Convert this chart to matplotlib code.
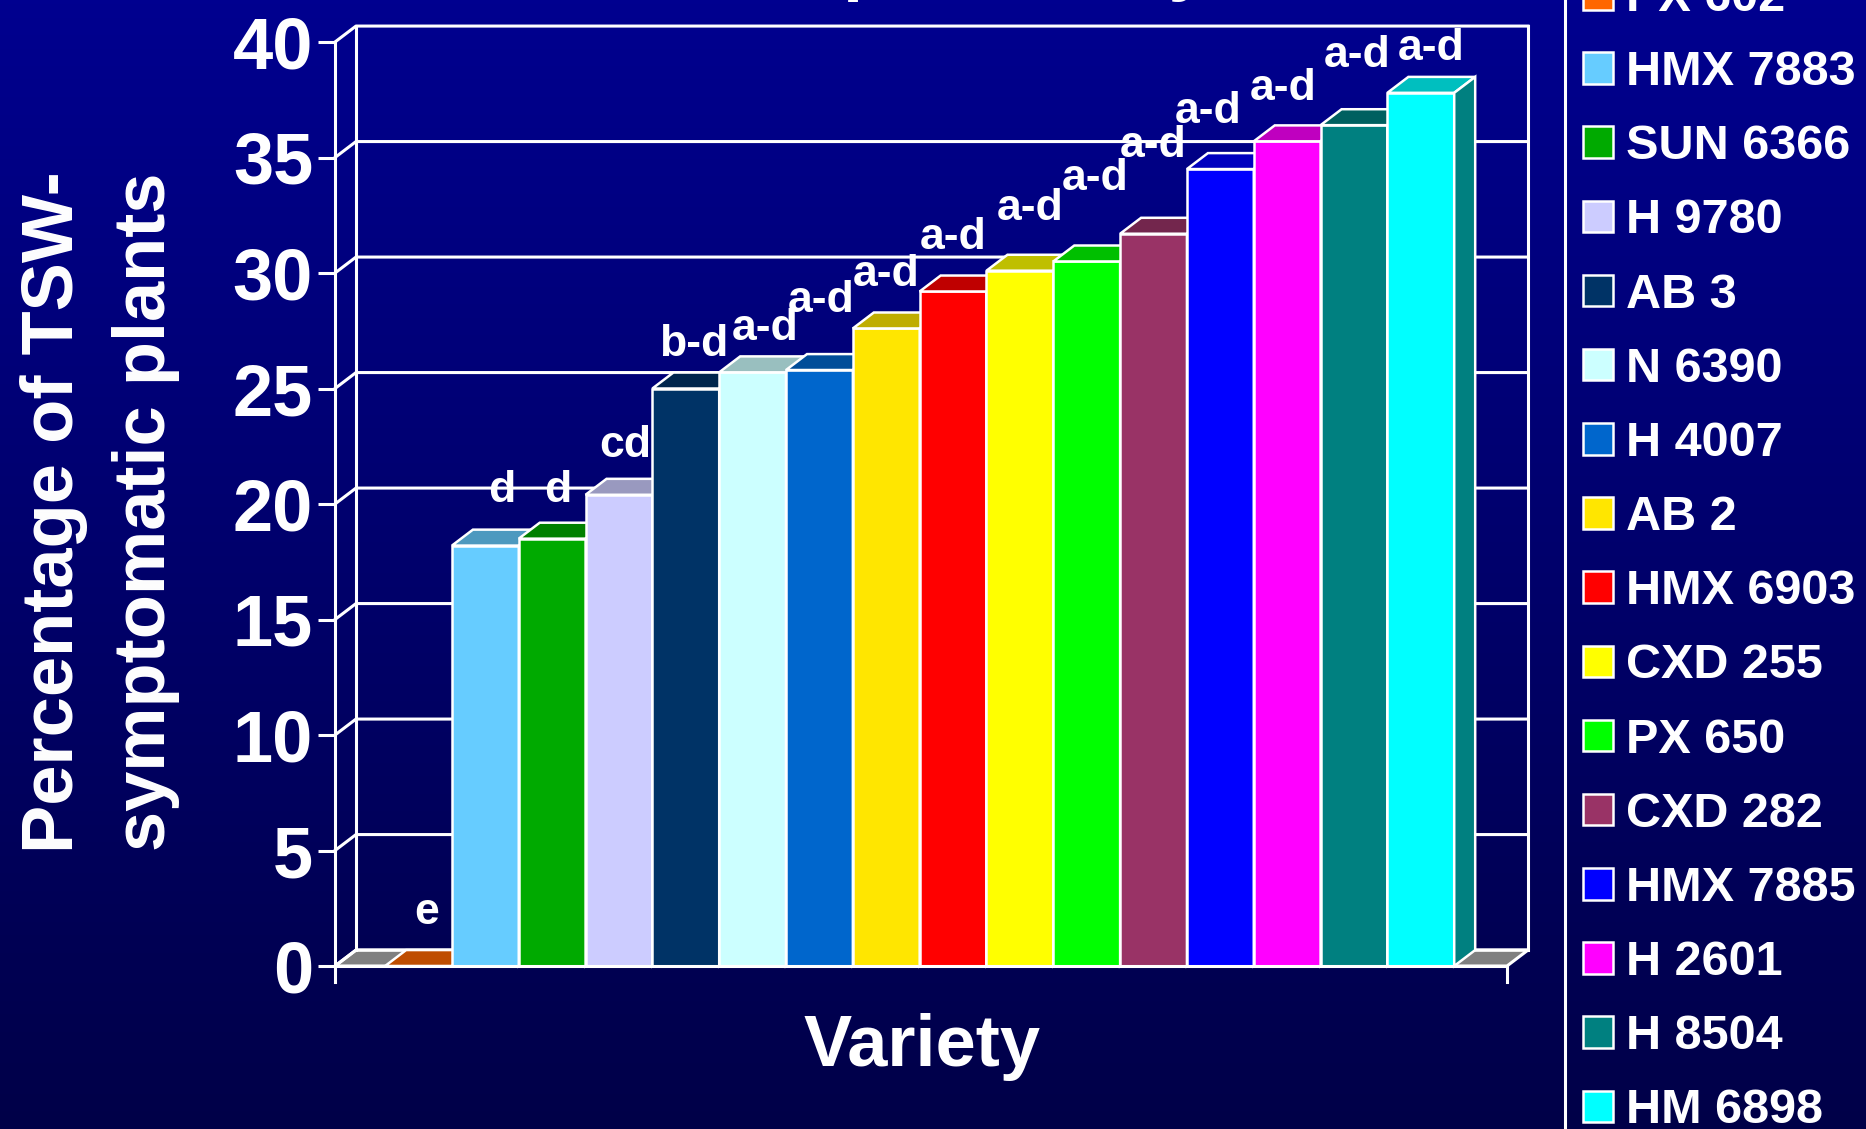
# TSW incidence by variety, 3D-style column chart on a blue slide background

import numpy as np
import matplotlib.pyplot as plt
from matplotlib.patches import Polygon
from matplotlib.colors import to_rgb, LinearSegmentedColormap

varieties = ["PX 602", "HMX 7883", "SUN 6366", "H 9780", "AB 3", "N 6390",
             "H 4007", "AB 2", "HMX 6903", "CXD 255", "PX 650", "CXD 282",
             "HMX 7885", "H 2601", "H 8504", "HM 6898"]
pct_tsw = [0.0, 18.2, 18.5, 20.4, 25.0, 25.7, 25.8, 27.6, 29.2, 30.1,
           30.5, 31.7, 34.5, 35.7, 36.4, 37.8]
letters = ["e", "d", "d", "cd", "b-d", "a-d", "a-d", "a-d", "a-d", "a-d",
           "a-d", "a-d", "a-d", "a-d", "a-d", "a-d"]
bar_colors = ["#FF6600", "#66CCFF", "#00AA00", "#CCCCFF", "#003366", "#CCFFFF",
              "#0066CC", "#FFE600", "#FF0000", "#FFFF00", "#00FF00", "#993366",
              "#0000FF", "#FF00FF", "#008080", "#00FFFF"]

# hand-placed letter labels (nudges in data units)
label_dx = [0.12, 0.24, 0.09, 0.09, 0.12, 0.18, 0.03, 0.0, 0.0, 0.15,
            0.13, 0.0, -0.18, -0.06, 0.05, 0.16]
label_lift = [2.3, 2.4, 2.1, 2.15, 1.9, 1.9, 3.0, 2.35, 2.35, 2.7,
              3.6, 3.8, 2.5, 2.3, 3.0, 1.9]

plt.rcParams["font.family"] = ["Liberation Sans", "DejaVu Sans"]
plt.rcParams["font.weight"] = "bold"

W, H = 1866, 1129
fig = plt.figure(figsize=(W / 100, H / 100), dpi=100)

# background gradient
bg = fig.add_axes([0, 0, 1, 1], zorder=-10)
grad = np.linspace(0, 1, 256)[:, None]
bg.imshow(grad, aspect="auto", extent=[0, 1, 0, 1],
          cmap=LinearSegmentedColormap.from_list("bg", ["#00008F", "#000048"]))
bg.axis("off")

ax = fig.add_axes([335 / W, 1 - 966 / H, 1172 / W, 924 / H])
ax.patch.set_alpha(0)
ax.set_xlim(-1.25, 16.29)
ax.set_ylim(0, 40)
xl, xr = ax.get_xlim()
dx, dy = 0.314, 0.69
lw = 2.2

# floor and walls
ax.add_patch(Polygon([(xl, 0), (xr, 0), (xr + dx, dy), (xl + dx, dy)], closed=True,
                     fc="#808080", ec="white", lw=lw, clip_on=False, zorder=1))
for v in range(0, 41, 5):
    ax.plot([xl, xl + dx, xr + dx], [v, v + dy, v + dy], color="white", lw=lw,
            clip_on=False, zorder=1.5)
for xx in (xl + dx, xr + dx):
    ax.plot([xx, xx], [dy, 40 + dy], color="white", lw=lw, clip_on=False, zorder=1.5)
ax.plot([xl, xl], [-0.69, 40], color="white", lw=lw, clip_on=False, zorder=10)
ax.plot([xl, xr], [0, 0], color="white", lw=lw, clip_on=False, zorder=10)
ax.plot([xr, xr], [-0.69, 0], color="white", lw=lw, clip_on=False, zorder=10)

# bars: front faces, then top and side faces
x = np.arange(len(varieties))
bars = ax.bar(x, pct_tsw, width=1.0, color=bar_colors, edgecolor="white", linewidth=1.8)
for i, (p, v, c) in enumerate(zip(bars.patches, pct_tsw, bar_colors)):
    z = 3 + i * 0.1
    p.set_zorder(z)
    p.set_clip_on(False)
    rgb = np.array(to_rgb(c))
    x0, x1 = i - 0.5, i + 0.5
    top = Polygon([(x0, v), (x1, v), (x1 + dx, v + dy), (x0 + dx, v + dy)], closed=True,
                  fc=rgb * 0.75, ec="white", lw=1.8, clip_on=False, zorder=z + 0.01)
    side = Polygon([(x1, 0), (x1 + dx, dy), (x1 + dx, v + dy), (x1, v)], closed=True,
                   fc=rgb * 0.5, ec="white", lw=1.8, clip_on=False, zorder=z + 0.02)
    ax.add_patch(top)
    ax.add_patch(side)
    ax.text(i + label_dx[i], v + label_lift[i], letters[i], ha="center", va="center",
            fontsize=32, color="white", fontweight="bold", zorder=20, clip_on=False)

ax.set_xticks([])
ax.set_yticks(range(0, 41, 5))
ax.tick_params(axis="y", length=12.2, width=lw, color="white", labelcolor="white",
               labelsize=52, pad=3.5)
for s in ax.spines.values():
    s.set_visible(False)

fig.text(100 / W, 1 - 512 / H, "Percentage of TSW-\nsymptomatic plants", rotation=90,
         ha="center", va="center", multialignment="center", fontsize=52,
         color="white", linespacing=1.45)
fig.text(922 / W, 1 - 1047 / H, "Variety", ha="center", va="center", fontsize=52,
         color="white")
fig.text(1209 / W, 1 + 13 / H, "TSW incidence per variety", ha="right", va="baseline",
         fontsize=52, color="white")

leg = ax.legend(bars.patches, varieties, loc="upper left",
                bbox_to_anchor=(1565 / W, 1 + 42 / H), bbox_transform=fig.transFigure,
                borderaxespad=0, prop={"size": 35, "weight": "bold"}, labelcolor="white",
                labelspacing=0.6, handlelength=0.62, handleheight=0.62,
                handletextpad=0.27, borderpad=0.37, fancybox=False, framealpha=1)
leg.get_frame().set_facecolor("none")
leg.get_frame().set_edgecolor("white")
leg.get_frame().set_linewidth(lw)

fig.savefig("out.png", dpi=100)
